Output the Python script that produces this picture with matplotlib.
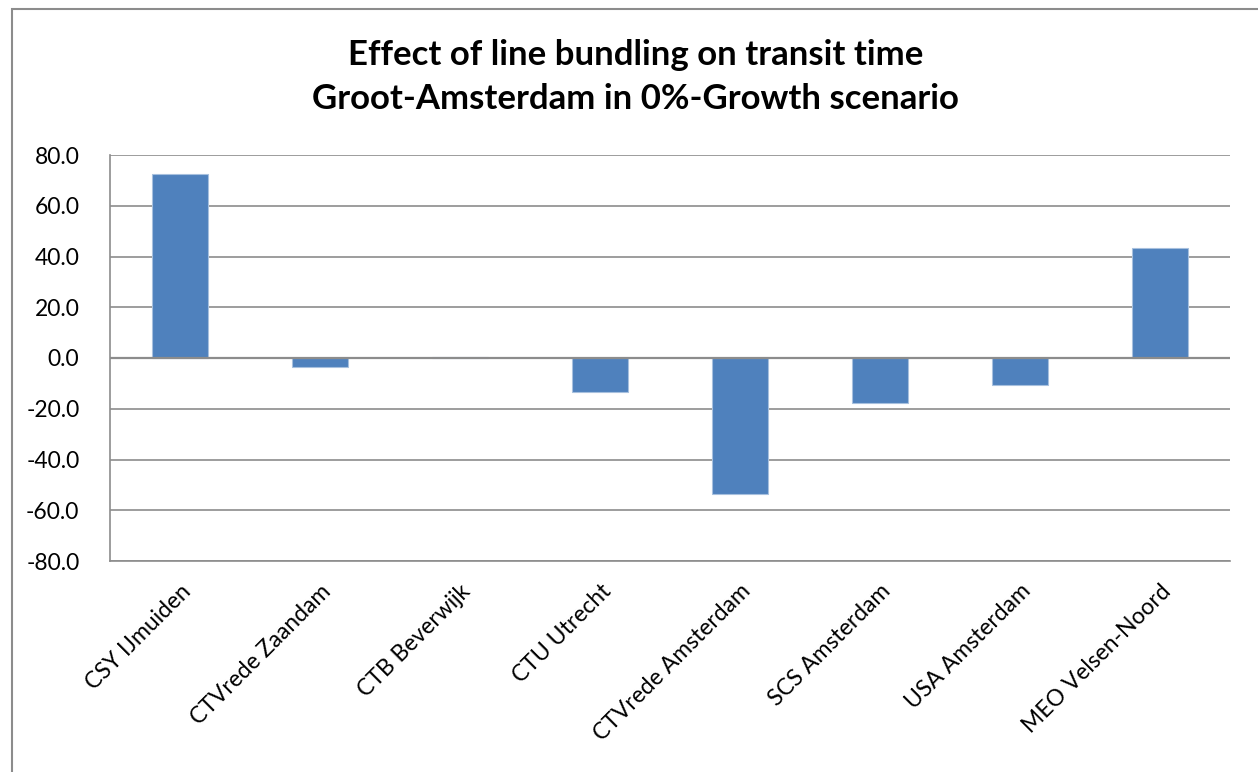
import matplotlib
matplotlib.use("Agg")
import matplotlib.pyplot as plt
from matplotlib.patches import Rectangle

categories = ["CSY IJmuiden", "CTVrede Zaandam", "CTB Beverwijk", "CTU Utrecht",
              "CTVrede Amsterdam", "SCS Amsterdam", "USA Amsterdam", "MEO Velsen-Noord"]
values = [72.4, -3.7, 0.5, -13.4, -53.7, -17.7, -10.6, 43.5]
yticks = [80, 60, 40, 20, 0, -20, -40, -60, -80]
title = "Effect of line bundling on transit time\nGroot-Amsterdam in 0%-Growth scenario"

plt.rcParams['font.family'] = ['Lato', 'DejaVu Sans']

W, H = 1258, 772
fig = plt.figure(figsize=(W / 100, H / 100), dpi=100)
fig.patch.set_facecolor("white")

# chart border
fig.patches.append(Rectangle((12 / W, -0.01), 1.1, 1 - 9 / H + 0.01, transform=fig.transFigure,
                             fill=False, edgecolor="#8c8c8c", linewidth=1.5))

left, right, top, bottom = 110 / W, 1230 / W, 1 - 155 / H, 1 - 561 / H
ax = fig.add_axes([left, bottom, right - left, top - bottom])

x = list(range(len(categories)))
ax.bar(x, values, width=0.4, color="#4F81BD", edgecolor="#A7C0DE", linewidth=0.8, zorder=3)

ax.set_xlim(-0.5, len(categories) - 0.5)
ax.set_ylim(-80, 80)
ax.set_yticks(yticks)
ax.set_yticklabels([f"{v:.1f}" for v in yticks], fontsize=16.5)
ax.yaxis.grid(True, color="#8c8c8c", linewidth=1.2, zorder=0)
ax.axhline(0, color="#8c8c8c", linewidth=1.6, zorder=4)
ax.set_xticks(x)
ax.set_xticklabels(categories, rotation=45, ha="right", rotation_mode="anchor", fontsize=16.5)
ax.tick_params(axis="y", length=0, pad=22)
ax.tick_params(axis="x", length=0, pad=14)

for s in ["top", "right"]:
    ax.spines[s].set_visible(False)
for s in ["left", "bottom"]:
    ax.spines[s].set_color("#8c8c8c")
    ax.spines[s].set_linewidth(1.2)

fig.text(0.505, 1 - 77 / H, title, ha="center", va="center", fontsize=25,
         fontweight="bold", linespacing=1.45)

fig.savefig("out.png", dpi=100)
